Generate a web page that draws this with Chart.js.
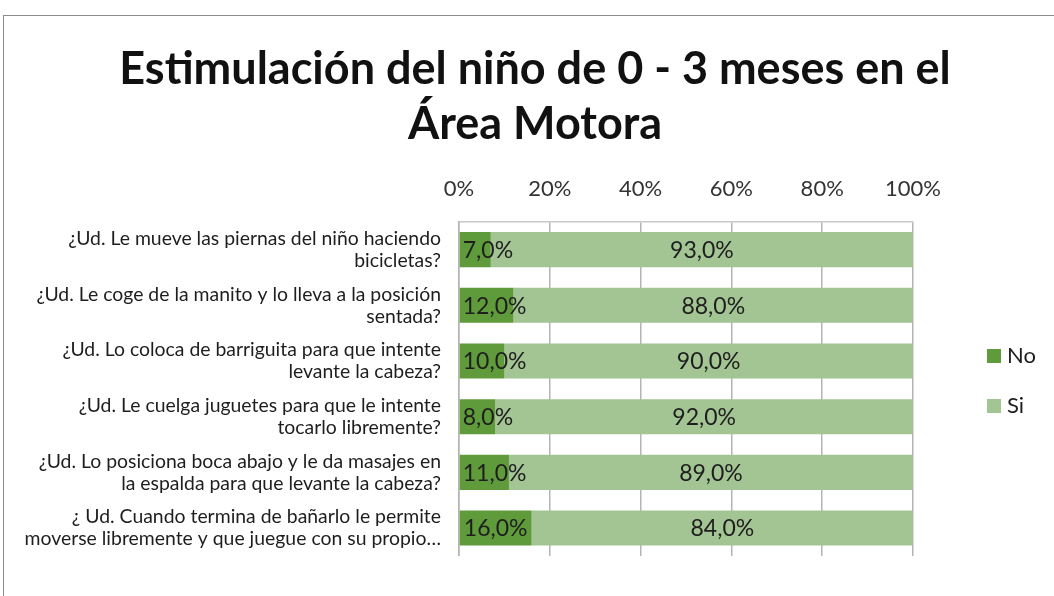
<!DOCTYPE html>
<html>
<head>
<meta charset="utf-8">
<script src="https://cdn.jsdelivr.net/npm/chart.js@4"></script>
<style>
  body { margin: 0; background: #fff; }
  #wrap { position: relative; width: 1054px; height: 596px; overflow: hidden; }
  #frame { position: absolute; left: 3px; top: 15px; width: 1100px; height: 700px; border: 1px solid #8c8c8c; }
  #chart { position: absolute; left: 0; top: 0; }
</style>
</head>
<body>
<div id="wrap">
  <div id="frame"></div>
  <canvas id="chart" width="1054" height="596"></canvas>
</div>
<script>
const preguntas = [
    ['¿Ud. Le mueve las piernas del niño haciendo', 'bicicletas?'],
    ['¿Ud. Le coge de la manito y lo lleva a la posición', 'sentada?'],
    ['¿Ud. Lo coloca de barriguita para que intente', 'levante la cabeza?'],
    ['¿Ud. Le cuelga juguetes para que le intente', 'tocarlo libremente?'],
    ['¿Ud. Lo posiciona boca abajo y le da masajes en', 'la espalda para que levante la cabeza?'],
    ['¿ Ud. Cuando termina de bañarlo le permite', 'moverse libremente y que juegue con su propio…']
];
const valoresNo = [7, 12, 10, 8, 11, 16];
const valoresSi = [93, 88, 90, 92, 89, 84];
const ticksX = [0, 20, 40, 60, 80, 100];

const FONT = "Lato, 'Open Sans', sans-serif";

// etichette dentro le barre
const etichette = {
    id: 'etichette',
    afterDatasetsDraw(chart) {
        const ctx = chart.ctx;
        ctx.save();
        ctx.font = '23px ' + FONT;
        ctx.fillStyle = '#1e1e1e';
        ctx.textAlign = 'center';
        ctx.textBaseline = 'middle';
        chart.data.datasets.forEach(function (ds, i) {
            const meta = chart.getDatasetMeta(i);
            meta.data.forEach(function (bar, j) {
                const txt = ds.data[j].toFixed(1).replace('.', ',') + '%';
                const w = ctx.measureText(txt).width;
                let cx = (bar.x + bar.base) / 2;
                const minX = Math.min(bar.x, bar.base) + w / 2 + 3;
                if (cx < minX) cx = minX;
                ctx.fillText(txt, cx, bar.y + 1);
            });
        });
        ctx.restore();
    }
};

// legenda a destra
const legenda = {
    id: 'legenda',
    afterDraw(chart) {
        const ctx = chart.ctx;
        ctx.save();
        ctx.font = '22px ' + FONT;
        ctx.textBaseline = 'middle';
        chart.data.datasets.forEach(function (ds, i) {
            const y = 356 + i * 50;
            ctx.fillStyle = ds.backgroundColor;
            ctx.fillRect(987, y - 7, 14, 14);
            ctx.fillStyle = '#1e1e1e';
            ctx.fillText(ds.label, 1007, y);
        });
        ctx.restore();
    }
};

const ctx = document.getElementById('chart');

new Chart(ctx, {
    type: 'bar',
    data: {
        labels: preguntas,
        datasets: [
            {
                label: 'No',
                data: valoresNo,
                backgroundColor: '#5f9a3b',
                categoryPercentage: 1,
                barPercentage: 0.63
            },
            {
                label: 'Si',
                data: valoresSi,
                backgroundColor: '#a3c493',
                categoryPercentage: 1,
                barPercentage: 0.63
            }
        ]
    },
    plugins: [etichette, legenda],
    options: {
        indexAxis: 'y',
        responsive: false,
        animation: false,
        layout: {
            padding: { left: 16, top: 15, right: 0, bottom: 21 }
        },
        plugins: {
            legend: { display: false },
            tooltip: { enabled: false },
            title: {
                display: true,
                text: ['Estimulación del niño de 0 - 3 meses en el', 'Área Motora'],
                color: '#111',
                font: { family: FONT, size: 45, weight: 'bold', lineHeight: 1.22 },
                padding: { top: 27, bottom: 0 }
            }
        },
        scales: {
            x: {
                position: 'top',
                stacked: true,
                min: 0,
                max: 100,
                afterBuildTicks: function (scale) {
                    scale.ticks = ticksX.map(v => ({ value: v }));
                },
                afterFit: function (scale) { scale.height = 70; },
                ticks: {
                    callback: v => v + '%',
                    color: '#333',
                    padding: 20,
                    font: { family: FONT, size: 22 }
                },
                grid: {
                    color: '#b4b4b4',
                    lineWidth: 1.5,
                    drawTicks: false
                },
                border: { display: true, color: '#c8c8c8', width: 1.5 }
            },
            y: {
                stacked: true,
                afterFit: function (scale) { scale.width = 443; },
                ticks: {
                    color: '#1e1e1e',
                    padding: 18,
                    font: { family: FONT, size: 19.4, lineHeight: 1.14 }
                },
                grid: { display: false, drawTicks: false },
                border: { display: true, color: '#b4b4b4', width: 1.5 }
            },
            spazio: {
                axis: 'y',
                type: 'linear',
                position: 'right',
                afterFit: function (scale) { scale.width = 141; },
                ticks: { display: false },
                grid: { display: false, drawTicks: false },
                border: { display: false }
            }
        }
    }
});
</script>
</body>
</html>
